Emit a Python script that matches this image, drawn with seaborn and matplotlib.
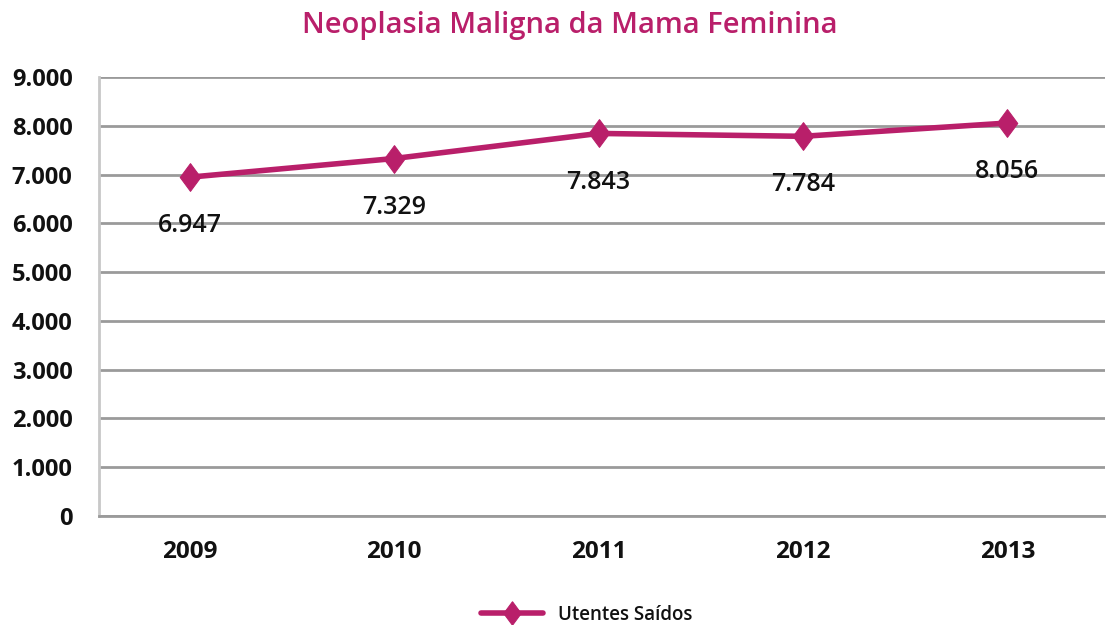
import pandas as pd
import numpy as np
import matplotlib
matplotlib.use("Agg")
import matplotlib.pyplot as plt
import seaborn as sns

years = ["2009", "2010", "2011", "2012", "2013"]
utentes = [6947, 7329, 7843, 7784, 8056]
labels = ["6.947", "7.329", "7.843", "7.784", "8.056"]
y_ticks = [0, 1000, 2000, 3000, 4000, 5000, 6000, 7000, 8000, 9000]
y_tick_labels = ["0", "1.000", "2.000", "3.000", "4.000", "5.000", "6.000", "7.000", "8.000", "9.000"]

data = pd.DataFrame({"Ano": years, "Utentes Saídos": utentes})

sns.set_style("white")
plt.rcParams["font.family"] = ["Open Sans", "DejaVu Sans"]

color = "#B91F6A"
diamond = [(0, 1), (0.74, 0), (0, -1), (-0.74, 0), (0, 1)]

fig = plt.figure(figsize=(11.06, 6.25), dpi=100)
ax = fig.add_axes([0.0895, 0.1744, 0.91, 0.7024])

sns.lineplot(
    data=data, x="Ano", y="Utentes Saídos",
    color=color, linewidth=4, marker=diamond, markersize=20,
    markeredgecolor=color, label="Utentes Saídos", ax=ax
)

# gridlines
ax.set_ylim(0, 9000)
ax.set_xlim(-0.445, 4.48)
ax.set_yticks(y_ticks)
ax.set_yticklabels(y_tick_labels)
for t in y_ticks:
    ax.axhline(t, color="#9A9A9A", linewidth=2, zorder=0)

# data labels under each point
for i, (v, lab) in enumerate(zip(utentes, labels)):
    ax.annotate(lab, (i, v), xytext=(0, -35), textcoords="offset points",
                ha="center", va="center", fontsize=18, fontweight="semibold",
                color="#111111")

ax.set_xticks(range(len(years)))
ax.set_xticklabels(years)
ax.set_xticks(np.arange(0.5, 4, 1), minor=True)
ax.tick_params(axis="x", which="major", length=0, pad=17, labelsize=17.5)
ax.tick_params(axis="x", which="minor", length=6, width=2, color="#C8C8C8", direction="out")
ax.tick_params(axis="y", length=7, width=2, color="#9A9A9A", pad=12, labelsize=17)
for lab in ax.get_xticklabels() + ax.get_yticklabels():
    lab.set_fontweight("bold")
    lab.set_color("#111111")

for side in ["top", "right"]:
    ax.spines[side].set_visible(False)
ax.spines["left"].set_color("#C8C8C8")
ax.spines["left"].set_linewidth(2)
ax.spines["bottom"].set_color("#9A9A9A")
ax.spines["bottom"].set_linewidth(2)

ax.set_xlabel("")
ax.set_ylabel("")
fig.text(570 / 1106, 1 - 25 / 625, "Neoplasia Maligna da Mama Feminina", color=color,
         fontsize=21, fontweight="semibold", ha="center", va="center")

leg = ax.legend(loc="center", frameon=False,
                fontsize=13.5, handlelength=3.3, markerscale=0.85)
for t in leg.get_texts():
    t.set_fontweight("semibold")
    t.set_color("#111111")
leg.set_bbox_to_anchor((587 / 1106, 1 - 615 / 625), transform=fig.transFigure)

fig.savefig("out.png", dpi=100)
